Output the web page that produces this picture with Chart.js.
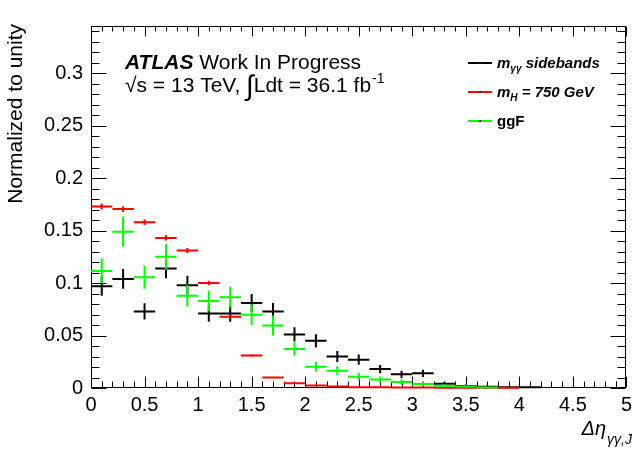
<!DOCTYPE html>
<html><head><meta charset="utf-8">
<script src="https://cdn.jsdelivr.net/npm/chart.js@4.4.0/dist/chart.umd.min.js"></script>
<style>html,body{margin:0;padding:0;background:#fff;overflow:hidden}#wrap{width:637px;height:456px}</style>
</head><body><div id="wrap"><canvas id="c" width="637" height="456"></canvas></div>
<script>
// ---- data ----
const binEdges = [0,0.2,0.4,0.6,0.8,1.0,1.2,1.4,1.6,1.8,2.0,2.2,2.4,2.6,2.8,3.0,3.2,3.4,3.6,3.8,4.0,4.2,4.4,4.6,4.8,5.0];
const binCenters = [0.1,0.3,0.5,0.7,0.9,1.1,1.3,1.5,1.7,1.9,2.1,2.3,2.5,2.7,2.9,3.1,3.3,3.5,3.7,3.9,4.1,4.3,4.5,4.7,4.9];
const xTickValues = [0,0.5,1,1.5,2,2.5,3,3.5,4,4.5,5];
const xTickLabels = ['0','0.5','1','1.5','2','2.5','3','3.5','4','4.5','5'];
const yTickValues = [0,0.05,0.1,0.15,0.2,0.25,0.3];
const yTickLabels = ['0','0.05','0.1','0.15','0.2','0.25','0.3'];

const sidebands    = [0.097,0.104,0.073,0.114,0.098,0.071,0.071,0.081,0.073,0.051,0.045,0.030,0.027,0.018,0.013,0.014,0.004,0.002,0.0012,0.0008,0.0006,null,null,null,null];
const sidebandsErr = [0.009,0.0095,0.0078,0.0095,0.009,0.0078,0.0078,0.0085,0.008,0.0068,0.0063,0.0052,0.0049,0.004,0.0034,0.0035,0.0019,0.0013,0.001,0.0008,0.0007,null,null,null,null];
const mH750        = [0.173,0.1705,0.158,0.143,0.131,0.100,0.068,0.031,0.010,0.0045,0.0025,0.0015,0.0008,0.0006,0.0005,0.0004,0.0003,0.0003,0.0002,0.0002,null,null,null,null,null];
const mH750Err     = [0.0028,0.0028,0.0027,0.0025,0.0024,0.0021,0.0017,0.0012,0.0007,0.0005,0.0004,0.0003,0.0002,0.0002,0.0002,0.0001,0.0001,0.0001,0.0001,0.0001,null,null,null,null,null];
const ggF          = [0.1115,0.149,0.1055,0.125,0.088,0.083,0.0865,0.0697,0.0595,0.0372,0.0203,0.0165,0.0108,0.008,0.0058,0.0038,0.0022,0.0014,0.0005,null,null,null,null,null,null];
const ggFErr       = [0.012,0.0143,0.011,0.012,0.0103,0.0098,0.0098,0.01,0.0095,0.0063,0.0048,0.0043,0.0035,0.003,0.0025,0.002,0.0015,0.0012,0.0007,null,null,null,null,null,null];

const seriesNames = ['sidebands','mH750','ggF'];
const FONT = "'Liberation Sans', Arial, Helvetica, sans-serif";

function pts(vals){ return binCenters.map((c,i)=>({x:c,y:vals[i]})); }

const frameTicks = {
  id:'frameTicks',
  beforeDatasetsDraw(chart){
    const {ctx, chartArea:a, scales:{x,y}} = chart;
    ctx.save();
    ctx.strokeStyle='#000'; ctx.lineWidth=1;
    const L=Math.round(a.left)+0.5, R=Math.round(a.right)-0.5, T=Math.round(a.top)+0.5, B=Math.round(a.bottom)-0.5;
    ctx.strokeRect(L,T,R-L,B-T);
    ctx.beginPath();
    for(let k=0;k<=50;k++){
      const px=Math.round(x.getPixelForValue(k/10))+0.5;
      const major = k%5===0;
      ctx.moveTo(px,B); ctx.lineTo(px,B-(major?11:6));
      ctx.moveTo(px,T); ctx.lineTo(px,T+(major?10:5));
    }
    for(let k=0;k<=34;k++){
      const py=Math.round(y.getPixelForValue(k/100))+0.5;
      const major = k%5===0;
      ctx.moveTo(L,py); ctx.lineTo(L+(major?15:8),py);
      ctx.moveTo(R,py); ctx.lineTo(R-(major?15:8),py);
    }
    ctx.stroke();
    ctx.restore();
  },
  afterDatasetsDraw(chart){
    const {ctx, scales:{x,y}} = chart;
    chart.data.datasets.forEach(ds=>{
      ctx.save();
      ctx.strokeStyle=ds.borderColor; ctx.lineWidth=2;
      ctx.beginPath();
      ds.data.forEach((p,j)=>{
        if(p.y==null) return;
        const x0=x.getPixelForValue(binEdges[j]), x1=x.getPixelForValue(binEdges[j+1]);
        const yc=y.getPixelForValue(p.y);
        const e=ds.errs[j]||0;
        const xc=x.getPixelForValue(p.x);
        ctx.moveTo(x0,yc); ctx.lineTo(x1,yc);
        ctx.moveTo(xc,y.getPixelForValue(p.y-e)); ctx.lineTo(xc,y.getPixelForValue(p.y+e));
      });
      ctx.stroke();
      ctx.restore();
    });
  },
  afterDraw(chart){
    const {ctx} = chart;
    ctx.save();
    ctx.fillStyle='#000';
    // y title
    ctx.save();
    ctx.translate(16,24); ctx.rotate(-Math.PI/2);
    ctx.font="21px "+FONT; ctx.textAlign='right'; ctx.textBaseline='middle';
    ctx.fillText('Normalized to unity',0,0);
    ctx.restore();
    // x title
    ctx.textBaseline='alphabetic';
    ctx.font="italic 14px "+FONT; ctx.textAlign='right';
    ctx.fillText('γγ,J',632,444);
    const sw=ctx.measureText('γγ,J').width;
    ctx.font="italic 20px "+FONT;
    ctx.fillText('Δη',632-sw-1,435);
    // ATLAS label
    ctx.textAlign='left';
    ctx.font="italic bold 21px "+FONT;
    ctx.fillText('ATLAS',125,69);
    let w=ctx.measureText('ATLAS').width;
    ctx.font="21px "+FONT;
    ctx.fillText(' Work In Progress',125+w,69);
    // second line
    ctx.font="21px "+FONT;
    let xx=125;
    const seg1='√s = 13 TeV, ';
    ctx.fillText(seg1,xx,92); xx+=ctx.measureText(seg1).width;
    ctx.font="28px "+FONT;
    ctx.fillText('∫',xx,95); xx+=ctx.measureText('∫').width;
    ctx.font="21px "+FONT;
    const seg2='Ldt = 36.1 fb';
    ctx.fillText(seg2,xx,92); xx+=ctx.measureText(seg2).width;
    ctx.font="14px "+FONT;
    ctx.fillText('-1',xx+1,83);
    // legend
    const leg=[{c:'#000',y:63,parts:[['m',0],['γγ',1],[' sidebands',0]],it:true},
               {c:'#ff0000',y:92,parts:[['m',0],['H',1],[' = 750 GeV',0]],it:true},
               {c:'#00ff00',y:121,parts:[['ggF',0]],it:false}];
    leg.forEach(l=>{
      ctx.strokeStyle=l.c; ctx.lineWidth=2;
      ctx.beginPath(); ctx.moveTo(468,l.y); ctx.lineTo(492,l.y); ctx.stroke();
      ctx.fillStyle='#222'; ctx.fillRect(479,l.y-1,2,2);
      ctx.fillStyle='#000';
      let px=497;
      l.parts.forEach(([t,sub])=>{
        ctx.font=(l.it?'italic ':'')+'bold '+(sub?10:15)+'px '+FONT;
        ctx.fillText(t,px,l.y+5+(sub?4:0));
        px+=ctx.measureText(t).width;
      });
    });
    ctx.restore();
  }
};

const chart = new Chart(document.getElementById('c'),{
  type:'scatter',
  data:{datasets:[
    {label:'m_γγ sidebands',data:pts(sidebands),errs:sidebandsErr,borderColor:'#000000',backgroundColor:'#000000',pointRadius:0,showLine:false},
    {label:'m_H = 750 GeV',data:pts(mH750),errs:mH750Err,borderColor:'#ff0000',backgroundColor:'#ff0000',pointRadius:0,showLine:false},
    {label:'ggF',data:pts(ggF),errs:ggFErr,borderColor:'#00ff00',backgroundColor:'#00ff00',pointRadius:0,showLine:false}
  ]},
  options:{
    responsive:false, animation:false, devicePixelRatio:1,
    layout:{padding:{top:26,right:5,left:0,bottom:0}},
    plugins:{legend:{display:false},tooltip:{enabled:false}},
    scales:{
      x:{type:'linear',min:0,max:5,
        grid:{display:false,drawTicks:false},border:{display:false},
        afterBuildTicks:s=>{s.ticks=xTickValues.map(v=>({value:v}));},
        afterFit:s=>{s.height=68;},
        ticks:{callback:(v,i)=>xTickLabels[i],font:{family:FONT,size:20},color:'#000',padding:5,maxRotation:0,autoSkip:false}},
      y:{type:'linear',min:0,max:0.345,
        grid:{display:false,drawTicks:false},border:{display:false},
        afterBuildTicks:s=>{s.ticks=yTickValues.map(v=>({value:v}));},
        afterFit:s=>{s.width=91;},
        ticks:{callback:(v,i)=>yTickLabels[i],font:{family:FONT,size:20},color:'#000',padding:8,autoSkip:false}}
    }
  },
  plugins:[frameTicks]
});
</script></body></html>
